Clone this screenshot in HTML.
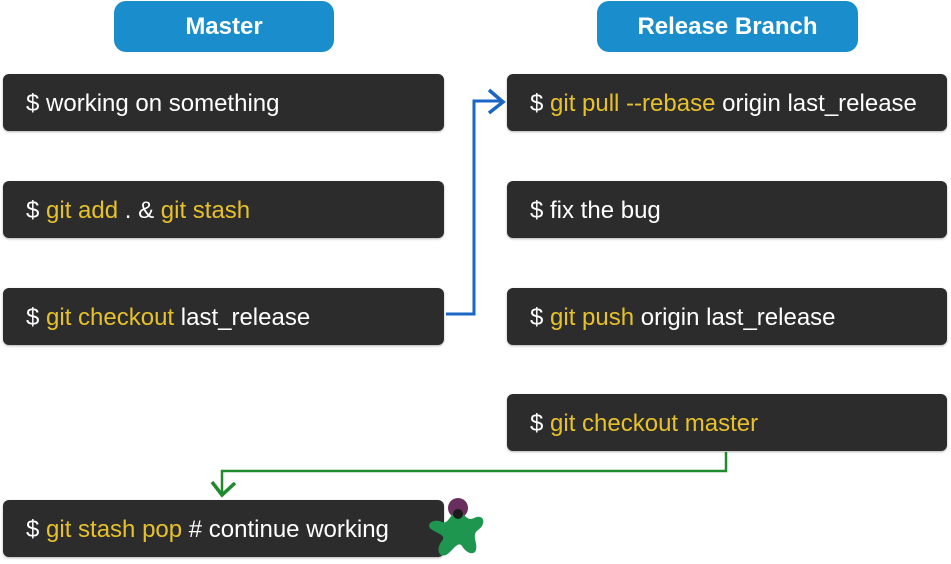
<!DOCTYPE html>
<html><head><meta charset="utf-8"><style>
html,body{margin:0;padding:0;background:#fff;}
body{width:951px;height:564px;position:relative;overflow:hidden;font-family:"Liberation Sans",Arial,sans-serif;}
.h{position:absolute;top:1px;height:51px;background:#1a8ecc;border-radius:12px;color:#fff;font-weight:bold;font-size:24px;text-align:center;line-height:51px;}
.b{position:absolute;height:57px;background:#2c2c2c;border-radius:6px;color:#fff;font-size:24px;line-height:59px;box-sizing:border-box;padding-left:23px;box-shadow:0 1px 2px rgba(0,0,0,.3);white-space:nowrap;}
.l{left:3px;width:441px;}
.r{left:507px;width:440px;}
.y{color:#e7c12b;}
svg{position:absolute;left:0;top:0;}
</style></head><body>
<div class="h" style="left:114px;width:220px;">Master</div>
<div class="h" style="left:597px;width:261px;">Release Branch</div>

<div class="b l" style="top:74px;">$ working on something</div>
<div class="b l" style="top:181px;">$ <span class="y">git add</span> . &amp; <span class="y">git stash</span></div>
<div class="b l" style="top:288px;">$ <span class="y">git checkout</span> last_release</div>
<div class="b l" style="top:500px;">$ <span class="y">git stash pop</span> # continue working</div>

<div class="b r" style="top:74px;">$ <span class="y">git pull --rebase</span> origin last_release</div>
<div class="b r" style="top:181px;">$ fix the bug</div>
<div class="b r" style="top:288px;">$ <span class="y">git push</span> origin last_release</div>
<div class="b r" style="top:394px;">$ <span class="y">git checkout master</span></div>

<svg width="951" height="564" viewBox="0 0 951 564">
<polyline points="446,314 474,314 474,101 500,101" fill="none" stroke="#1a66c6" stroke-width="3"/>
<polyline points="489,90 503,102 489,113" fill="none" stroke="#1a66c6" stroke-width="3.5"/>
<polyline points="726,452 726,471 222,471 222,494" fill="none" stroke="#1f8a2e" stroke-width="2.5"/>
<polyline points="212,482 222,495 235,483" fill="none" stroke="#1f8a2e" stroke-width="3.5"/>
<circle cx="458" cy="508" r="10" fill="#6a2e5e"/>
<path d="M458,512 C465,512 466,522 474,518 C484,513 487,524 478,530 C471,535 478,543 476,550 C474,556 466,553 462,546 C458,540 452,552 446,555 C438,558 436,548 442,541 C447,535 436,533 431,529 C425,524 434,518 442,522 C449,525 450,512 458,512 Z" fill="#1e9650"/>
<circle cx="458" cy="514" r="5" fill="#1a1a1a"/>
</svg>
</body></html>
